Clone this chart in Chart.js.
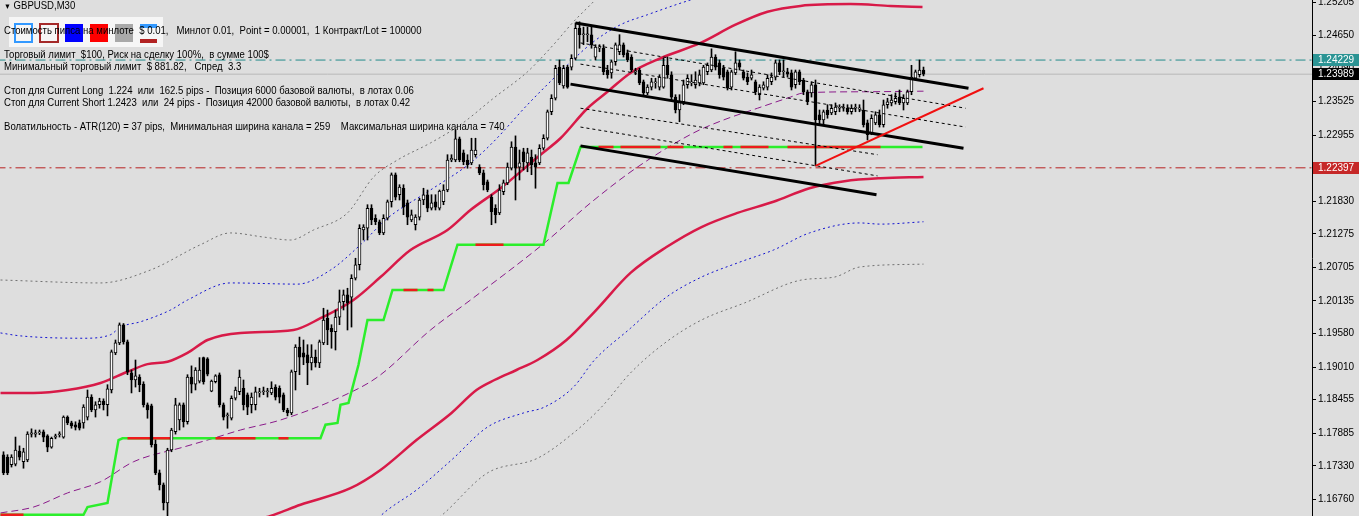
<!DOCTYPE html>
<html>
<head>
<meta charset="utf-8">
<script src="https://cdn.jsdelivr.net/npm/chart.js@4.4.0/dist/chart.umd.min.js"></script>
<style>
  html, body { margin: 0; padding: 0; background: #dedede; overflow: hidden; }
  #wrap { position: relative; width: 1359px; height: 516px; }
  #wrap canvas { position: absolute; left: 0; top: 0; }
  .ln { position: absolute; left: 4px; white-space: pre; font: 11px "Liberation Sans", Arial, sans-serif; line-height: 13px; color: #000; z-index: 3; transform: scaleX(0.87); transform-origin: 0 0; }
  .box { position: absolute; box-sizing: border-box; z-index: 2; }
</style>
</head>
<body>
<div id="wrap">
  <canvas id="chart" width="1359" height="516"></canvas>
  <div class="box" style="left:9px;top:17px;width:154px;height:30px;background:#f6f6f6;"></div>
  <div class="box" style="left:14px;top:23px;width:19px;height:20px;border:2px solid #3399ff;"></div>
  <div class="box" style="left:39px;top:23px;width:20px;height:20px;border:2px solid #a52a2a;"></div>
  <div class="box" style="left:65px;top:24px;width:18px;height:18px;background:#0000ff;"></div>
  <div class="box" style="left:90px;top:24px;width:18px;height:18px;background:#ff0000;"></div>
  <div class="box" style="left:115px;top:24px;width:18px;height:18px;background:#a9a9a9;"></div>
  <div class="box" style="left:140px;top:24px;width:17px;height:4px;background:#3399ff;"></div>
  <div class="box" style="left:140px;top:39px;width:17px;height:4px;background:#b22222;"></div>
  <div class="ln" style="top:-1px;"><span style="font-size:8px;">▼</span> GBPUSD,M30</div>
  <div class="ln" style="top:24px;">Стоимость пипса на минлоте  $ 0.01,   Минлот 0.01,  Point = 0.00001,  1 Контракт/Lot = 100000</div>
  <div class="ln" style="top:48px;">Торговый лимит  $100, Риск на сделку 100%,  в сумме 100$</div>
  <div class="ln" style="top:60px;">Минимальный торговый лимит  $ 881.82,   Спред  3.3</div>
  <div class="ln" style="top:84px;">Стоп для Current Long  1.224  или  162.5 pips -  Позиция 6000 базовой валюты,  в лотах 0.06</div>
  <div class="ln" style="top:96px;">Стоп для Current Short 1.2423  или  24 pips -  Позиция 42000 базовой валюты,  в лотах 0.42</div>
  <div class="ln" style="top:120px;">Волатильность - ATR(120) = 37 pips,  Минимальная ширина канала = 259    Максимальная ширина канала = 740</div>
</div>
<script>
// GBPUSD M30 bars, one entry per bar (index 0 = leftmost visible bar)
const opens = [
  1.1752,1.1748,1.1735,1.1736,1.1758,1.1740,1.1743,1.1787,1.1787,1.1789,
  1.1791,1.1784,1.1765,1.1782,1.1786,1.1782,1.1816,1.1806,1.1803,1.1806,
  1.1806,1.1816,1.1850,1.1828,1.1837,1.1843,1.1837,1.1862,1.1925,1.1942,
  1.1973,1.1944,1.1891,1.1879,1.1884,1.1872,1.1837,1.1835,1.1770,1.1721,
  1.1701,1.1670,1.1760,1.1791,1.1811,1.1837,1.1808,1.1884,1.1872,1.1877,
  1.1917,1.1915,1.1860,1.1876,1.1888,1.1837,1.1818,1.1814,1.1848,1.1859,
  1.1865,1.1854,1.1837,1.1837,1.1857,1.1859,1.1859,1.1857,1.1867,1.1865,
  1.1854,1.1828,1.1823,1.1893,1.1935,1.1925,1.1922,1.1908,1.1918,1.1908,
  1.1942,1.1984,1.1967,1.1961,1.1986,1.2012,1.2024,1.2020,1.2052,1.2075,
  1.2134,1.2137,1.2171,1.2154,1.2148,1.2129,1.2154,1.2182,1.2228,1.2194,
  1.2205,1.2180,1.2151,1.2143,1.2156,1.2185,1.2194,1.2171,1.2182,1.2171,
  1.2182,1.2202,1.2253,1.2253,1.2289,1.2265,1.2253,1.2248,1.2262,1.2241,
  1.2231,1.2216,1.2190,1.2171,1.2163,1.2199,1.2214,1.2239,1.2275,1.2241,
  1.2267,1.2248,1.2258,1.2248,1.2248,1.2273,1.2290,1.2335,1.2358,1.2411,
  1.2379,1.2411,1.2411,1.2426,1.2477,1.2466,1.2466,1.2466,1.2428,1.2443,
  1.2443,1.2406,1.2401,1.2420,1.2437,1.2449,1.2435,1.2428,1.2403,1.2406,
  1.2386,1.2367,1.2377,1.2384,1.2377,1.2377,1.2414,1.2398,1.2360,1.2338,
  1.2352,1.2381,1.2384,1.2381,1.2384,1.2384,1.2403,1.2406,1.2428,1.2418,
  1.2409,1.2403,1.2377,1.2401,1.2418,1.2403,1.2394,1.2392,1.2386,1.2364,
  1.2375,1.2377,1.2386,1.2394,1.2418,1.2403,1.2403,1.2401,1.2381,1.2403,
  1.2389,1.2369,1.2367,1.2381,1.2330,1.2321,1.2338,1.2333,1.2335,1.2341,
  1.2341,1.2341,1.2335,1.2341,1.2340,1.2338,1.2316,1.2299,1.2316,1.2330,
  1.2313,1.2347,1.2350,1.2352,1.2360,1.2350,1.2350,1.2369,1.2392,1.2398,
  1.2406
];
const highs = [
  1.1757,1.1752,1.1752,1.1782,1.1767,1.1763,1.1791,1.1796,1.1794,1.1794,
  1.1794,1.1786,1.1782,1.1787,1.1791,1.1818,1.1818,1.1809,1.1808,1.1811,
  1.1837,1.1862,1.1854,1.1842,1.1848,1.1847,1.1871,1.1930,1.1947,1.1976,
  1.1975,1.1947,1.1896,1.1913,1.1888,1.1876,1.1840,1.1838,1.1777,1.1726,
  1.1704,1.1763,1.1797,1.1848,1.1840,1.1840,1.1888,1.1903,1.1900,1.1917,
  1.1918,1.1917,1.1879,1.1888,1.1891,1.1840,1.1823,1.1852,1.1867,1.1896,
  1.1879,1.1857,1.1857,1.1867,1.1865,1.1867,1.1865,1.1876,1.1871,1.1869,
  1.1857,1.1831,1.1896,1.1939,1.1952,1.1947,1.1939,1.1939,1.1930,1.1947,
  1.2001,1.1998,1.1973,1.1998,1.2032,1.2032,1.2035,1.2058,1.2086,1.2143,
  1.2143,1.2177,1.2177,1.2160,1.2151,1.2160,1.2185,1.2231,1.2231,1.2211,
  1.2211,1.2185,1.2168,1.2160,1.2188,1.2205,1.2202,1.2194,1.2194,1.2202,
  1.2211,1.2262,1.2262,1.2304,1.2292,1.2270,1.2262,1.2290,1.2290,1.2245,
  1.2236,1.2219,1.2194,1.2177,1.2211,1.2219,1.2248,1.2284,1.2294,1.2270,
  1.2273,1.2273,1.2270,1.2262,1.2279,1.2296,1.2338,1.2364,1.2414,1.2423,
  1.2414,1.2414,1.2432,1.2486,1.2488,1.2479,1.2479,1.2479,1.2449,1.2449,
  1.2449,1.2414,1.2423,1.2452,1.2466,1.2452,1.2440,1.2432,1.2409,1.2409,
  1.2389,1.2381,1.2392,1.2392,1.2398,1.2426,1.2428,1.2403,1.2364,1.2364,
  1.2389,1.2398,1.2398,1.2403,1.2406,1.2414,1.2418,1.2442,1.2432,1.2423,
  1.2414,1.2406,1.2406,1.2437,1.2423,1.2406,1.2401,1.2406,1.2389,1.2381,
  1.2386,1.2398,1.2401,1.2423,1.2423,1.2423,1.2409,1.2406,1.2406,1.2406,
  1.2392,1.2372,1.2386,1.2389,1.2338,1.2338,1.2347,1.2347,1.2350,1.2347,
  1.2348,1.2347,1.2347,1.2348,1.2347,1.2355,1.2321,1.2330,1.2335,1.2338,
  1.2355,1.2358,1.2364,1.2367,1.2372,1.2364,1.2372,1.2414,1.2406,1.2423,
  1.2411
];
const lows = [
  1.1718,1.1718,1.1731,1.1733,1.1743,1.1729,1.1740,1.1782,1.1782,1.1786,
  1.1774,1.1757,1.1763,1.1779,1.1782,1.1780,1.1803,1.1797,1.1794,1.1794,
  1.1797,1.1811,1.1825,1.1816,1.1831,1.1828,1.1818,1.1857,1.1922,1.1939,
  1.1940,1.1888,1.1857,1.1867,1.1859,1.1833,1.1814,1.1765,1.1718,1.1692,
  1.1658,1.1641,1.1757,1.1787,1.1794,1.1799,1.1804,1.1857,1.1862,1.1874,
  1.1872,1.1886,1.1859,1.1874,1.1833,1.1811,1.1797,1.1811,1.1845,1.1854,
  1.1828,1.1820,1.1823,1.1828,1.1850,1.1854,1.1850,1.1854,1.1845,1.1840,
  1.1825,1.1818,1.1820,1.1862,1.1888,1.1905,1.1871,1.1896,1.1901,1.1900,
  1.1939,1.1939,1.1933,1.1930,1.1973,1.1998,1.1964,1.1969,1.2049,1.2066,
  1.2117,1.2117,1.2143,1.2143,1.2126,1.2126,1.2151,1.2173,1.2185,1.2185,
  1.2160,1.2143,1.2148,1.2134,1.2151,1.2177,1.2165,1.2168,1.2168,1.2168,
  1.2177,1.2199,1.2250,1.2250,1.2250,1.2245,1.2239,1.2245,1.2258,1.2228,
  1.2202,1.2199,1.2143,1.2146,1.2160,1.2194,1.2211,1.2236,1.2185,1.2219,
  1.2236,1.2233,1.2228,1.2205,1.2245,1.2270,1.2287,1.2330,1.2355,1.2381,
  1.2375,1.2375,1.2406,1.2423,1.2443,1.2449,1.2454,1.2443,1.2423,1.2437,
  1.2398,1.2392,1.2392,1.2414,1.2432,1.2428,1.2420,1.2403,1.2398,1.2381,
  1.2364,1.2364,1.2372,1.2375,1.2372,1.2375,1.2392,1.2355,1.2333,1.2318,
  1.2347,1.2375,1.2379,1.2375,1.2379,1.2381,1.2398,1.2403,1.2406,1.2392,
  1.2389,1.2372,1.2372,1.2398,1.2406,1.2389,1.2381,1.2389,1.2364,1.2355,
  1.2372,1.2372,1.2381,1.2389,1.2398,1.2394,1.2394,1.2372,1.2375,1.2381,
  1.2364,1.2347,1.2360,1.2243,1.2313,1.2313,1.2324,1.2330,1.2330,1.2335,
  1.2336,1.2331,1.2331,1.2335,1.2335,1.2309,1.2287,1.2296,1.2313,1.2309,
  1.2309,1.2341,1.2345,1.2348,1.2347,1.2338,1.2347,1.2364,1.2389,1.2394,
  1.2396
];
const closes = [
  1.1721,1.1721,1.1748,1.1760,1.1748,1.1757,1.1787,1.1789,1.1789,1.1791,
  1.1782,1.1765,1.1780,1.1784,1.1787,1.1816,1.1806,1.1801,1.1799,1.1797,
  1.1833,1.1850,1.1828,1.1837,1.1843,1.1837,1.1864,1.1927,1.1942,1.1973,
  1.1944,1.1893,1.1879,1.1886,1.1871,1.1837,1.1828,1.1769,1.1721,1.1701,
  1.1670,1.1760,1.1794,1.1837,1.1837,1.1808,1.1884,1.1872,1.1896,1.1896,
  1.1876,1.1889,1.1877,1.1886,1.1837,1.1816,1.1820,1.1848,1.1862,1.1884,
  1.1837,1.1833,1.1850,1.1859,1.1859,1.1860,1.1860,1.1865,1.1850,1.1850,
  1.1828,1.1823,1.1893,1.1935,1.1918,1.1918,1.1908,1.1918,1.1908,1.1944,
  1.1981,1.1964,1.1961,1.1986,1.2012,1.2024,1.2010,1.2052,1.2075,1.2137,
  1.2139,1.2171,1.2151,1.2148,1.2129,1.2154,1.2182,1.2228,1.2190,1.2207,
  1.2173,1.2156,1.2160,1.2156,1.2185,1.2194,1.2171,1.2180,1.2173,1.2200,
  1.2202,1.2253,1.2256,1.2289,1.2253,1.2250,1.2245,1.2270,1.2270,1.2231,
  1.2211,1.2202,1.2165,1.2160,1.2202,1.2214,1.2241,1.2275,1.2239,1.2248,
  1.2250,1.2265,1.2245,1.2241,1.2273,1.2290,1.2335,1.2358,1.2409,1.2384,
  1.2409,1.2377,1.2426,1.2477,1.2466,1.2467,1.2467,1.2449,1.2445,1.2445,
  1.2403,1.2398,1.2420,1.2449,1.2449,1.2432,1.2423,1.2406,1.2404,1.2384,
  1.2367,1.2377,1.2386,1.2386,1.2394,1.2414,1.2398,1.2360,1.2338,1.2352,
  1.2381,1.2392,1.2386,1.2389,1.2398,1.2411,1.2414,1.2428,1.2411,1.2398,
  1.2394,1.2375,1.2403,1.2418,1.2411,1.2392,1.2386,1.2398,1.2369,1.2377,
  1.2381,1.2392,1.2394,1.2418,1.2403,1.2404,1.2399,1.2377,1.2403,1.2386,
  1.2369,1.2352,1.2381,1.2321,1.2321,1.2335,1.2330,1.2341,1.2343,1.2342,
  1.2342,1.2335,1.2341,1.2342,1.2341,1.2313,1.2296,1.2324,1.2330,1.2313,
  1.2347,1.2352,1.2355,1.2358,1.2350,1.2358,1.2369,1.2394,1.2403,1.2406,
  1.2399
];

// indicator curves as [bar, price]
const upperRed = [[-0.75,1.1857],[7.5,1.1857],[16,1.1862],[24.25,1.1874],[31,1.1893],[36,1.1906],[41,1.1910],[46,1.1925],[51,1.1947],[59.25,1.1959],[72.5,1.1964],[79.25,1.1984],[87.5,1.2015],[94.25,1.2054],[101.75,1.2100],[111,1.2134],[116.75,1.2168],[124.25,1.2205],[134.25,1.2262],[139.25,1.2290],[146,1.2341],[151,1.2369],[156.75,1.2401],[164.25,1.2426],[174.25,1.2452],[183,1.2483],[191,1.2505],[199.25,1.2515],[211.75,1.2518],[221.75,1.2515],[229.75,1.2513]];
const lowerRed = [[60,1.1636],[66.75,1.1648],[74.25,1.1667],[86.75,1.1695],[94.25,1.1726],[103.25,1.1777],[112,1.1823],[118.25,1.1862],[122.75,1.1879],[128.25,1.1896],[133.5,1.1913],[140.75,1.1947],[147.75,1.1995],[156.75,1.2061],[165.75,1.2105],[174.5,1.2139],[183.5,1.2163],[192.5,1.2182],[201.5,1.2205],[210.25,1.2217],[219.25,1.2222],[230,1.2224]];
const middleLine = [[-0.75,1.1653],[7.5,1.1663],[16,1.1687],[24.25,1.1706],[32.5,1.1740],[45,1.1765],[52.5,1.1780],[59.25,1.1794],[69.25,1.1811],[84.25,1.1850],[93.5,1.1884],[106.75,1.1964],[116.75,1.2015],[135.25,1.2112],[146.75,1.2180],[158.5,1.2241],[172.5,1.2299],[180,1.2321],[188.5,1.2341],[196.75,1.2360],[200,1.2367],[215,1.2369],[230,1.2370]];
const upperBlue = [[-0.75,1.1959],[4.25,1.1954],[20,1.1950],[26.75,1.1956],[29.25,1.1969],[34.25,1.1978],[41.75,1.1998],[46,1.2015],[56.75,1.2044],[73.5,1.2042],[81.75,1.2066],[89.25,1.2109],[96,1.2154],[106.75,1.2202],[116.75,1.2248],[122.5,1.2284],[131,1.2347],[139.25,1.2403],[147.5,1.2454],[154.25,1.2483],[161,1.2500],[171.75,1.2525],[179.25,1.2539]];
const lowerBlue = [[91.75,1.1633],[96,1.1658],[103.25,1.1692],[112,1.1743],[121,1.1799],[130,1.1823],[135.25,1.1833],[142.5,1.1867],[147.75,1.1913],[156.75,1.1967],[165.75,1.2020],[174.5,1.2054],[183.5,1.2078],[192.5,1.2100],[201.5,1.2129],[214,1.2146],[219.25,1.2144],[230,1.2148]];
const upperGray = [[-0.75,1.2049],[24.25,1.2044],[36.75,1.2066],[49.25,1.2109],[56.75,1.2129],[65,1.2122],[71.75,1.2117],[77.5,1.2134],[86,1.2163],[92.5,1.2224],[98.5,1.2253],[106.75,1.2282],[114.25,1.2313],[122.5,1.2358],[131,1.2403],[137.5,1.2449],[142.5,1.2488],[146.75,1.2517],[149.25,1.2534]];
const lowerGray = [[108,1.1640],[110.25,1.1653],[121,1.1721],[133.5,1.1746],[142.5,1.1789],[149.5,1.1833],[156.75,1.1891],[165.75,1.1944],[174.5,1.1981],[185.25,1.2010],[199.5,1.2049],[207.75,1.2054],[214,1.2071],[230,1.2076]];

// trailing stop: full path and the red stretches [fromBar, toBar, level]
const trailStop = [[-0.75,1.1650],[20,1.1650],[21,1.1663],[26,1.1670],[28.75,1.1777],[29.75,1.1780],[79.25,1.1780],[80.5,1.1803],[83.5,1.1806],[84.25,1.1837],[86.25,1.1840],[88.75,1.1905],[91,1.1981],[95,1.1981],[97.25,1.2032],[110,1.2032],[113.5,1.2109],[135,1.2109],[138.5,1.2214],[141.25,1.2214],[144.25,1.2275],[229.75,1.2275]];
const trailRed = [[-0.75,5,1.1650],[31,41.75,1.1780],[53,63,1.1780],[68.75,71.25,1.1780],[100,103.5,1.2032],[106,107.5,1.2032],[118,125,1.2109],[148.75,152.5,1.2275],[154.25,164.25,1.2275],[166,170,1.2275],[180,182.25,1.2275],[184.25,191.25,1.2275],[196,219.25,1.2275]];

// drawn objects [bar1, price1, bar2, price2]
const channelLines = [[143,1.2486,241.25,1.2375],[141.75,1.2382,240,1.2273],[144.25,1.2277,218.25,1.2194]];
const channelDashes = [[144.25,1.2452,240.5,1.2341],[144.25,1.2416,240.5,1.2309],[144.25,1.2341,218.5,1.2262],[144.25,1.2309,218.5,1.2226]];
const redTrend = [[203,1.2243,245,1.2375]];

const tealLevel = 1.24229;
const bidLevel = 1.23989;
const redLevel = 1.22397;

const yTicks = [1.25205,1.24650,1.24090,1.23525,1.22955,1.22390,1.21830,1.21275,1.20705,1.20135,1.19580,1.19010,1.18455,1.17885,1.17330,1.16760];
const tagPrices = [1.24229, 1.23989, 1.22397];
const tagColors = ['#2b9494', '#000000', '#c62828'];

const pts = a => a.map(([x, y]) => ({x, y}));
const segs = a => a.flatMap(([x1, y1, x2, y2]) => [{x: x1, y: y1}, {x: x2, y: y2}, {x: x2, y: null}]);
const flats = a => a.flatMap(([x1, x2, v]) => [{x: x1, y: v}, {x: x2, y: v}, {x: x2, y: null}]);
const level = v => [{x: -2, y: v}, {x: 330, y: v}];

const bars = opens.map((o, i) => i);
const line = (data, color, width, dash, order, smooth) => ({
  type: 'line', data, borderColor: color, borderWidth: width, borderDash: dash || [],
  pointRadius: 0, fill: false, order, cubicInterpolationMode: smooth ? 'monotone' : 'default', tension: 0
});

const priceTags = {
  id: 'priceTags',
  afterDraw(chart) {
    const {ctx} = chart;
    const y = chart.scales.y;
    ctx.save();
    ctx.font = '10px "Liberation Sans", Arial, sans-serif';
    ctx.textBaseline = 'middle';
    tagPrices.forEach((p, k) => {
      const py = Math.round(y.getPixelForValue(p));
      ctx.fillStyle = tagColors[k];
      ctx.fillRect(y.left + 1, py - 6, 47, 12);
      ctx.fillStyle = '#ffffff';
      ctx.fillText(p.toFixed(5), y.left + 6, py + 0.5);
    });
    ctx.restore();
  }
};

new Chart(document.getElementById('chart'), {
  type: 'line',
  data: {
    datasets: [
      line(segs(redTrend), '#f01010', 2, [], 0),
      line(segs(channelLines), '#000000', 3, [], 1),
      line(segs(channelDashes), '#000000', 1, [3, 3], 2),
      {
        type: 'bar', order: 3, grouped: false, barThickness: 3, minBarLength: 1,
        data: bars.map(i => ({x: i, y: [opens[i], closes[i]]})),
        backgroundColor: c => closes[c.dataIndex] >= opens[c.dataIndex] ? '#ffffff' : '#000000',
        borderColor: '#000000', borderWidth: 1, borderSkipped: false
      },
      {
        type: 'bar', order: 4, grouped: false, barThickness: 1, minBarLength: 1,
        data: bars.map(i => ({x: i, y: [lows[i], highs[i]]})),
        backgroundColor: '#000000', borderWidth: 0
      },
      line(flats(trailRed), '#ee1b1b', 2.5, [], 5),
      line(pts(trailStop), '#2bee2b', 2.5, [], 6),
      line(pts(upperRed), '#d81a48', 2.5, [], 7, true),
      line(pts(lowerRed), '#d81a48', 2.5, [], 7, true),
      line(pts(middleLine), '#8a1a8a', 1, [7, 4], 8, true),
      line(pts(upperBlue), '#1010d0', 1, [2, 3], 9, true),
      line(pts(lowerBlue), '#1010d0', 1, [2, 3], 9, true),
      line(pts(upperGray), '#707070', 1, [2, 3], 10, true),
      line(pts(lowerGray), '#707070', 1, [2, 3], 10, true),
      line(level(bidLevel), '#b8b8b8', 1, [], 11),
      line(level(tealLevel), '#238b8b', 1, [10, 4, 2, 4], 11),
      line(level(redLevel), '#b82020', 1, [10, 4, 2, 4], 11)
    ]
  },
  options: {
    responsive: false,
    animation: false,
    events: [],
    layout: { padding: 0 },
    plugins: { legend: { display: false }, tooltip: { enabled: false } },
    scales: {
      x: { type: 'linear', min: -0.875, max: 327.125, display: false, offset: false },
      y: {
        position: 'right',
        min: 1.16478,
        max: 1.2525,
        afterBuildTicks: s => { s.ticks = yTicks.map(v => ({value: v})); },
        afterFit: s => { s.width = 47; s.paddingTop = 0; s.paddingBottom = 0; },
        ticks: {
          autoSkip: false,
          padding: 2,
          color: '#000000',
          font: { family: '"Liberation Sans", Arial, sans-serif', size: 10 },
          callback: v => Number(v).toFixed(5)
        },
        grid: { drawOnChartArea: false, tickLength: 4, color: '#000000' },
        border: { display: true, color: '#000000', width: 1 }
      }
    }
  },
  plugins: [priceTags]
});
</script>
</body>
</html>
